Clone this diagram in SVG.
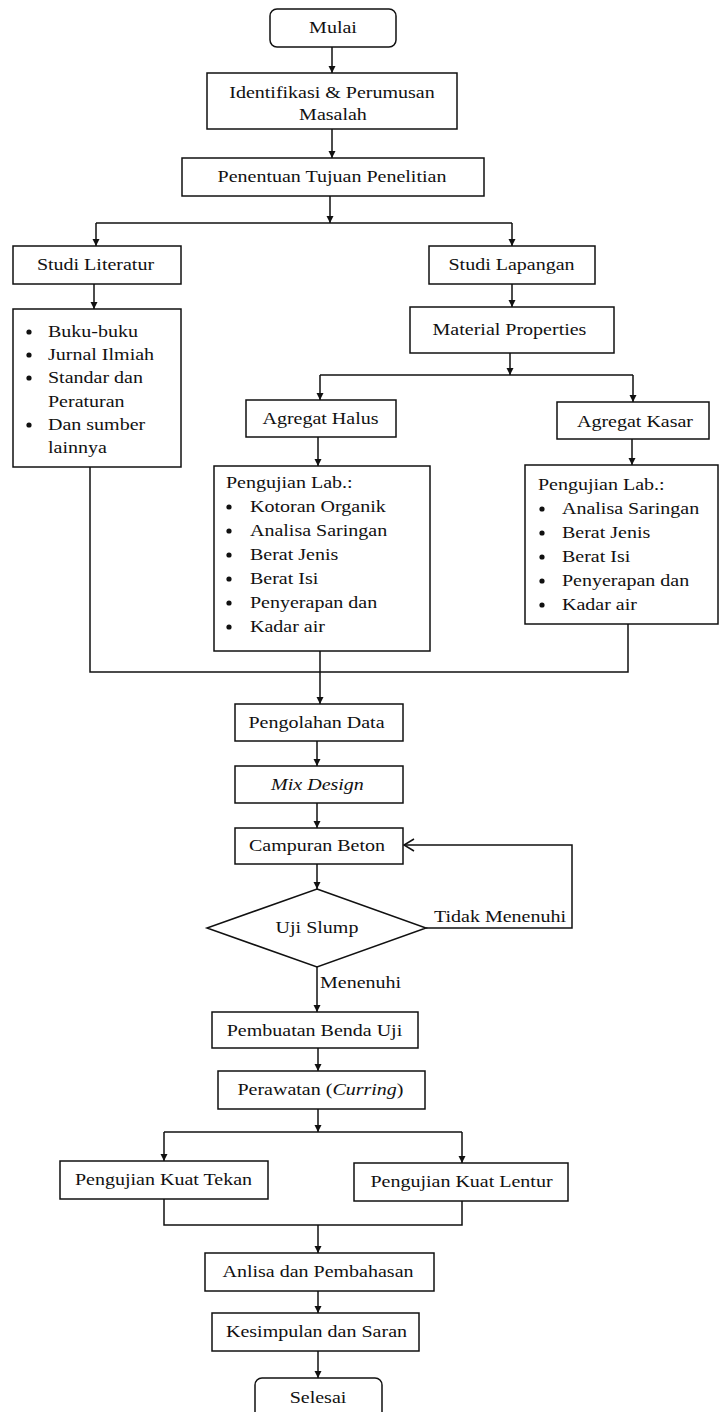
<svg xmlns="http://www.w3.org/2000/svg" width="723" height="1412" viewBox="0 0 723 1412">
<style>
  .box{fill:#fff;stroke:#111;stroke-width:1.5}
  .t{font-family:"Liberation Serif","Times New Roman",serif;font-size:16px;fill:#111}
  .c{text-anchor:middle}
  .i{font-style:italic}
  .ln{fill:none;stroke:#111;stroke-width:1.5}
  .ar{fill:none;stroke:#111;stroke-width:1.5;marker-end:url(#ah)}
  .dot{fill:#111}
</style>
<defs>
  <marker id="ah" viewBox="0 0 10 10" refX="10" refY="5" markerWidth="7" markerHeight="8" markerUnits="userSpaceOnUse" orient="auto">
    <path d="M0,0 L10,5 L0,10 z" fill="#111"/>
  </marker>
</defs>
<rect width="723" height="1412" fill="#fff"/>

<g id="connectors">
  <path class="ar" d="M332,47 V73"/>
  <path class="ar" d="M332,129 V158"/>
  <path class="ar" d="M330,196 V223"/>
  <path class="ln" d="M96,223 H512"/>
  <path class="ar" d="M96,223 V246"/>
  <path class="ar" d="M512,223 V246"/>
  <path class="ar" d="M94,284 V309"/>
  <path class="ar" d="M512,284 V307"/>
  <path class="ar" d="M510,353 V375"/>
  <path class="ln" d="M320,375 H633"/>
  <path class="ar" d="M320,375 V400"/>
  <path class="ar" d="M633,375 V402"/>
  <path class="ar" d="M318,437 V466"/>
  <path class="ar" d="M632,439 V465"/>
  <path class="ln" d="M90,467 V672 H628 V624"/>
  <path class="ar" d="M320,651 V704"/>
  <path class="ar" d="M317,741 V766"/>
  <path class="ar" d="M317,803 V828"/>
  <path class="ar" d="M317,864 V889"/>
  <path class="ln" d="M426,928 H572 V845 H404"/>
  <path class="ln" d="M414,839 L404,845 L414,851"/>
  <path class="ar" d="M317,967 V1012"/>
  <path class="ar" d="M318,1048 V1071"/>
  <path class="ar" d="M318,1109 V1132"/>
  <path class="ln" d="M164,1132 H462"/>
  <path class="ar" d="M164,1132 V1161"/>
  <path class="ar" d="M462,1132 V1163"/>
  <path class="ln" d="M164,1199 V1225 H462 V1201"/>
  <path class="ar" d="M318,1225 V1253"/>
  <path class="ar" d="M318,1291 V1313"/>
  <path class="ar" d="M318,1351 V1378"/>
  <text class="t" transform="scale(1.25,1)" x="347.2" y="922">Tidak Menenuhi</text>
  <text class="t" transform="scale(1.25,1)" x="256" y="988">Menenuhi</text>
</g>

<g id="mulai">
  <rect class="box" x="270" y="9" width="126" height="38" rx="7"/>
  <text class="t c" transform="scale(1.25,1)" x="266.4" y="33">Mulai</text>
</g>
<g id="identifikasi">
  <rect class="box" x="207" y="73" width="250" height="56"/>
  <text class="t c" transform="scale(1.25,1)" x="265.6" y="98">Identifikasi &amp; Perumusan</text>
  <text class="t c" transform="scale(1.25,1)" x="266.4" y="120">Masalah</text>
</g>
<g id="penentuan">
  <rect class="box" x="182" y="158" width="302" height="38"/>
  <text class="t c" transform="scale(1.25,1)" x="265.6" y="182">Penentuan Tujuan Penelitian</text>
</g>
<g id="studi-literatur">
  <rect class="box" x="13" y="246" width="168" height="38"/>
  <text class="t c" transform="scale(1.25,1)" x="76.4" y="270">Studi Literatur</text>
</g>
<g id="studi-lapangan">
  <rect class="box" x="429" y="246" width="166" height="38"/>
  <text class="t c" transform="scale(1.25,1)" x="409.2" y="270">Studi Lapangan</text>
</g>
<g id="literatur-list">
  <rect class="box" x="13" y="309" width="168" height="158"/>
  <circle class="dot" cx="29" cy="332" r="2.6"/>
  <circle class="dot" cx="29" cy="355" r="2.6"/>
  <circle class="dot" cx="29" cy="378" r="2.6"/>
  <circle class="dot" cx="29" cy="425" r="2.6"/>
  <text class="t" transform="scale(1.25,1)" x="38.4" y="337">Buku-buku</text>
  <text class="t" transform="scale(1.25,1)" x="38.4" y="360">Jurnal Ilmiah</text>
  <text class="t" transform="scale(1.25,1)" x="38.4" y="383">Standar dan</text>
  <text class="t" transform="scale(1.25,1)" x="38.4" y="407">Peraturan</text>
  <text class="t" transform="scale(1.25,1)" x="38.4" y="430">Dan sumber</text>
  <text class="t" transform="scale(1.25,1)" x="38.4" y="453">lainnya</text>
</g>
<g id="material-properties">
  <rect class="box" x="410" y="307" width="204" height="46"/>
  <text class="t c" transform="scale(1.25,1)" x="407.6" y="335">Material Properties</text>
</g>
<g id="agregat-halus">
  <rect class="box" x="246" y="400" width="150" height="37"/>
  <text class="t c" transform="scale(1.25,1)" x="256.4" y="424">Agregat Halus</text>
</g>
<g id="agregat-kasar">
  <rect class="box" x="557" y="402" width="152" height="37"/>
  <text class="t c" transform="scale(1.25,1)" x="508" y="427">Agregat Kasar</text>
</g>
<g id="lab-halus">
  <rect class="box" x="214" y="466" width="216" height="185"/>
  <text class="t" transform="scale(1.25,1)" x="180.8" y="488">Pengujian Lab.:</text>
  <circle class="dot" cx="229" cy="507" r="2.6"/>
  <circle class="dot" cx="229" cy="531" r="2.6"/>
  <circle class="dot" cx="229" cy="555" r="2.6"/>
  <circle class="dot" cx="229" cy="579" r="2.6"/>
  <circle class="dot" cx="229" cy="603" r="2.6"/>
  <circle class="dot" cx="229" cy="627" r="2.6"/>
  <text class="t" transform="scale(1.25,1)" x="200" y="512">Kotoran Organik</text>
  <text class="t" transform="scale(1.25,1)" x="200" y="536">Analisa Saringan</text>
  <text class="t" transform="scale(1.25,1)" x="200" y="560">Berat Jenis</text>
  <text class="t" transform="scale(1.25,1)" x="200" y="584">Berat Isi</text>
  <text class="t" transform="scale(1.25,1)" x="200" y="608">Penyerapan dan</text>
  <text class="t" transform="scale(1.25,1)" x="200" y="632">Kadar air</text>
</g>
<g id="lab-kasar">
  <rect class="box" x="525" y="465" width="193" height="159"/>
  <text class="t" transform="scale(1.25,1)" x="430.4" y="490">Pengujian Lab.:</text>
  <circle class="dot" cx="542" cy="509" r="2.6"/>
  <circle class="dot" cx="542" cy="533" r="2.6"/>
  <circle class="dot" cx="542" cy="557" r="2.6"/>
  <circle class="dot" cx="542" cy="581" r="2.6"/>
  <circle class="dot" cx="542" cy="605" r="2.6"/>
  <text class="t" transform="scale(1.25,1)" x="449.6" y="514">Analisa Saringan</text>
  <text class="t" transform="scale(1.25,1)" x="449.6" y="538">Berat Jenis</text>
  <text class="t" transform="scale(1.25,1)" x="449.6" y="562">Berat Isi</text>
  <text class="t" transform="scale(1.25,1)" x="449.6" y="586">Penyerapan dan</text>
  <text class="t" transform="scale(1.25,1)" x="449.6" y="610">Kadar air</text>
</g>
<g id="pengolahan-data">
  <rect class="box" x="235" y="704" width="168" height="37"/>
  <text class="t c" transform="scale(1.25,1)" x="253.2" y="728">Pengolahan Data</text>
</g>
<g id="mix-design">
  <rect class="box" x="235" y="766" width="168" height="37"/>
  <text class="t c i" transform="scale(1.25,1)" x="254" y="790">Mix Design</text>
</g>
<g id="campuran-beton">
  <rect class="box" x="235" y="828" width="168" height="36"/>
  <text class="t c" transform="scale(1.25,1)" x="253.6" y="851">Campuran Beton</text>
</g>
<g id="uji-slump">
  <polygon class="box" points="317,889 426,928 317,967 207,928"/>
  <text class="t c" transform="scale(1.25,1)" x="253.6" y="933">Uji Slump</text>
</g>
<g id="pembuatan">
  <rect class="box" x="212" y="1012" width="206" height="36"/>
  <text class="t c" transform="scale(1.25,1)" x="251.6" y="1036">Pembuatan Benda Uji</text>
</g>
<g id="perawatan">
  <rect class="box" x="218" y="1071" width="207" height="38"/>
  <text class="t c" transform="scale(1.25,1)" x="256.4" y="1095">Perawatan (<tspan class="i">Curring</tspan>)</text>
</g>
<g id="kuat-tekan">
  <rect class="box" x="60" y="1161" width="208" height="38"/>
  <text class="t c" transform="scale(1.25,1)" x="130.8" y="1185">Pengujian Kuat Tekan</text>
</g>
<g id="kuat-lentur">
  <rect class="box" x="354" y="1163" width="214" height="38"/>
  <text class="t c" transform="scale(1.25,1)" x="369.2" y="1187">Pengujian Kuat Lentur</text>
</g>
<g id="analisa">
  <rect class="box" x="205" y="1253" width="229" height="38"/>
  <text class="t c" transform="scale(1.25,1)" x="254.4" y="1277">Anlisa dan Pembahasan</text>
</g>
<g id="kesimpulan">
  <rect class="box" x="212" y="1313" width="207" height="38"/>
  <text class="t c" transform="scale(1.25,1)" x="253.2" y="1337">Kesimpulan dan Saran</text>
</g>
<g id="selesai">
  <rect class="box" x="255" y="1378" width="127" height="45" rx="7"/>
  <text class="t c" transform="scale(1.25,1)" x="254.4" y="1403">Selesai</text>
</g>
</svg>
